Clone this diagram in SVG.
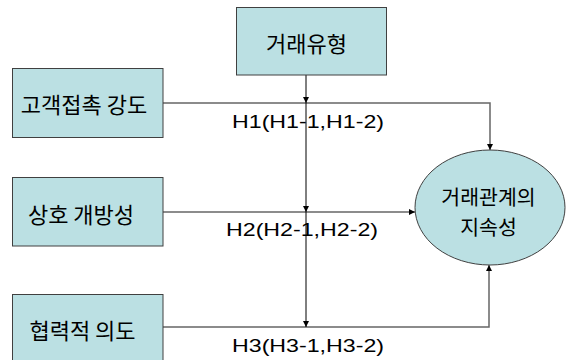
<svg xmlns="http://www.w3.org/2000/svg" width="575" height="360" viewBox="0 0 575 360">
<style>
.box{fill:#BBE0E3;stroke:#404040;stroke-width:1}
.kt{font-family:"Noto Sans CJK KR","Noto Sans",sans-serif;font-size:22px;fill:#000;text-anchor:middle;dominant-baseline:central}
.et{font-size:20.5px}
.lbl{font-family:"Liberation Sans",Arial,sans-serif;font-size:19px;fill:#000}
.h{fill:none;stroke:#666;stroke-width:1.5}
.v{fill:none;stroke:#000;stroke-width:1}
</style>
<defs>
<marker id="ah" viewBox="0 0 10 10" refX="10" refY="5" markerWidth="6" markerHeight="6" markerUnits="userSpaceOnUse" orient="auto">
<path d="M0,0 L10,5 L0,10 Z" fill="#000"/>
</marker>
</defs>
<rect width="575" height="360" fill="#fff"/>
<g id="connectors">
<path class="h" d="M163,103 H490 V150" marker-end="url(#ah)"/>
<path class="h" d="M163,212 H415" marker-end="url(#ah)"/>
<path class="h" d="M163,327 H489 V265" marker-end="url(#ah)"/>
<path class="v" d="M306,75 V103" marker-end="url(#ah)"/>
<path class="v" d="M306,103 V212" marker-end="url(#ah)"/>
<path class="v" d="M306,212 V327" marker-end="url(#ah)"/>
<text class="lbl" x="232" y="128" textLength="152" lengthAdjust="spacingAndGlyphs">H1(H1-1,H1-2)</text>
<text class="lbl" x="226" y="236" textLength="152" lengthAdjust="spacingAndGlyphs">H2(H2-1,H2-2)</text>
<text class="lbl" x="232" y="352" textLength="152" lengthAdjust="spacingAndGlyphs">H3(H3-1,H3-2)</text>
</g>
<g id="node-type">
<rect class="box" x="236.5" y="7.5" width="150" height="67.5"/>
<text class="kt" x="306.5" y="42">거래유형</text>
</g>
<g id="node-contact">
<rect class="box" x="12.5" y="68.5" width="150.5" height="69"/>
<text class="kt" x="84" y="103">고객접촉 강도</text>
</g>
<g id="node-open">
<rect class="box" x="12.5" y="177.5" width="150.5" height="68.5"/>
<text class="kt" x="81" y="213">상호 개방성</text>
</g>
<g id="node-coop">
<rect class="box" x="12.5" y="294.5" width="150.5" height="80"/>
<text class="kt" x="82.5" y="329">협력적 의도</text>
</g>
<g id="node-continuity">
<ellipse class="box" cx="490" cy="207.5" rx="75" ry="57.5"/>
<text class="kt et" x="488.5" y="196">거래관계의</text>
<text class="kt et" x="488.5" y="226">지속성</text>
</g>
</svg>
